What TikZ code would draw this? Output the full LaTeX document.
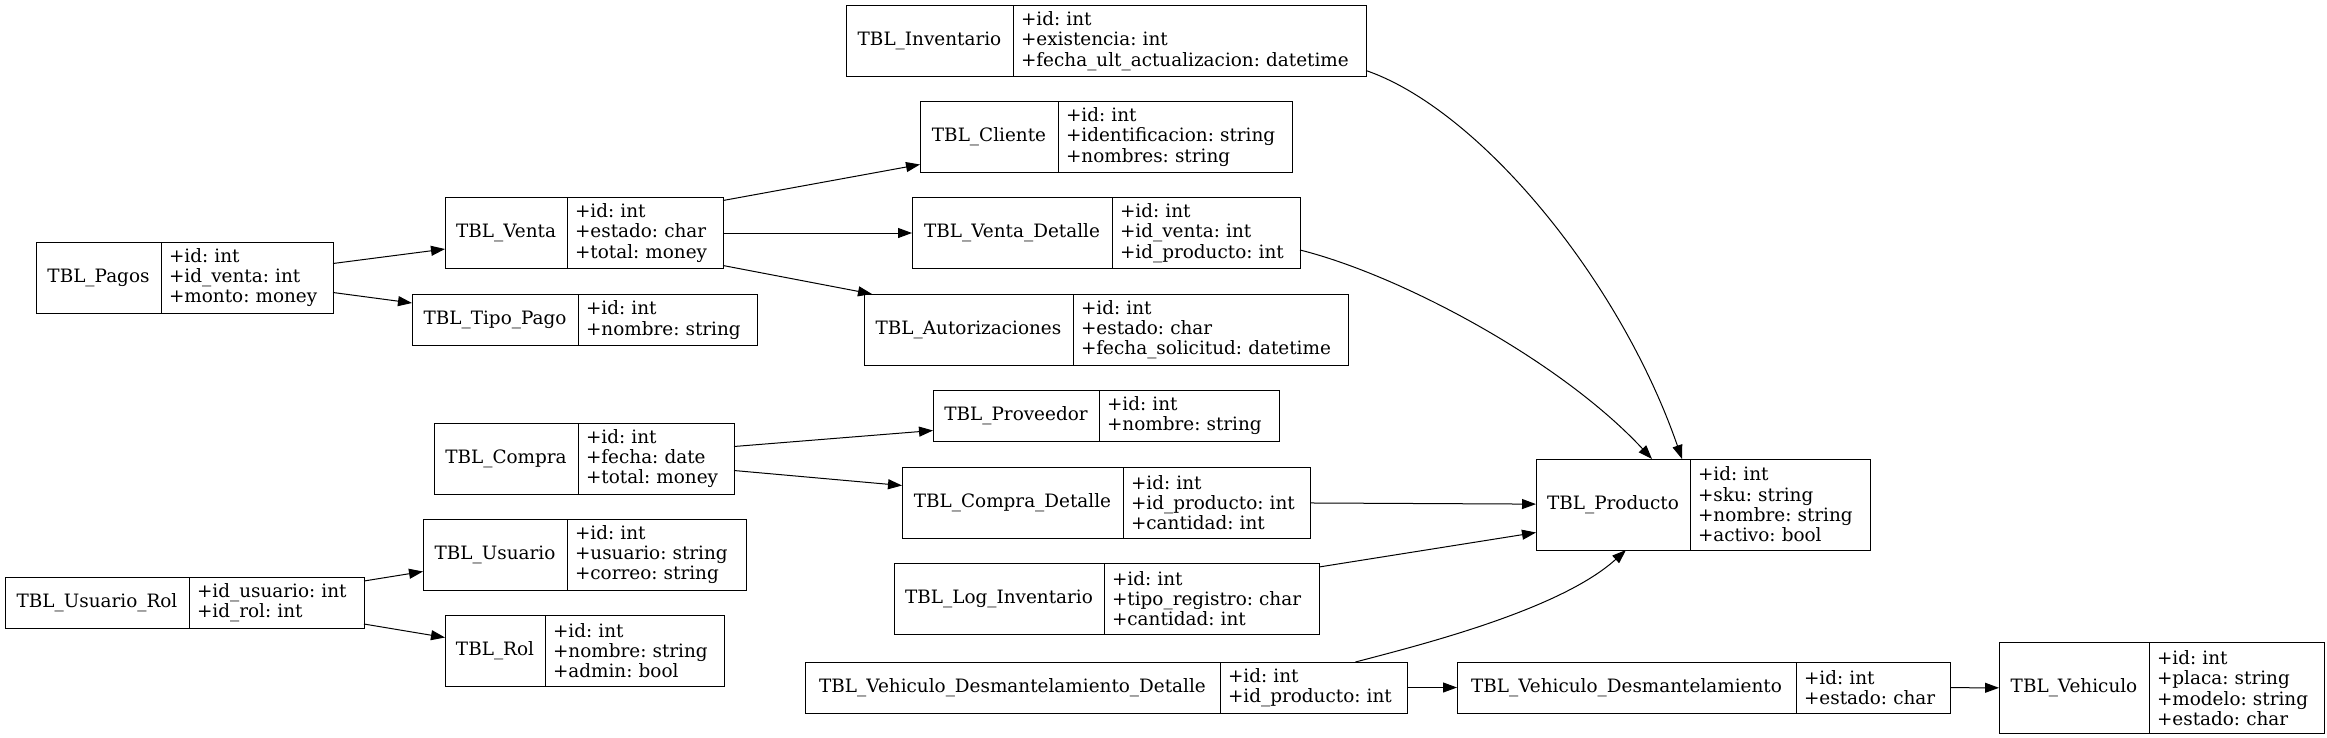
\documentclass[tikz,border=0pt]{standalone}
\usepackage{fontspec}
\setmainfont{DejaVu Serif}
\usetikzlibrary{arrows.meta, positioning}
\frenchspacing

\begin{document}
\begin{tikzpicture}[
    x=1pt, y=-1pt,
    every node/.style={font=\fontsize{18.4}{20.3}\selectfont},
    tabla/.style={rectangle, draw, line width=1pt, outer sep=0pt, inner sep=0pt, align=center},
    campos/.style={rectangle, draw, line width=1pt, outer sep=0pt, inner xsep=8pt, inner ysep=0pt, align=left},
    dos/.style={minimum height=51pt},
    tres/.style={minimum height=71pt},
    cuatro/.style={minimum height=91pt},
    arrow/.style={-{Triangle[length=14pt, width=10pt]}, line width=1pt}
]
\useasboundingbox (0,0) rectangle (2327,737);

% ---- bloque de ventas ----
\node[tabla, tres, minimum width=125pt] (pagos) at (98.5,277.5) {TBL\_Pagos};
\node[campos, tres, text width=156pt, right=0pt of pagos] (pagos-c) {+id: int\\+id\_venta: int\\+monto: money};
\node[tabla, tres, minimum width=122pt] (venta) at (506,233) {TBL\_Venta};
\node[campos, tres, text width=140pt, right=0pt of venta] (venta-c) {+id: int\\+estado: char\\+total: money};
\node[tabla, dos, minimum width=166pt] (tipopago) at (495,320) {TBL\_Tipo\_Pago};
\node[campos, dos, text width=163pt, right=0pt of tipopago] (tipopago-c) {+id: int\\+nombre: string};
\node[tabla, tres, minimum width=167pt] (inventario) at (929.5,41) {TBL\_Inventario};
\node[campos, tres, text width=337pt, right=0pt of inventario] (inventario-c) {+id: int\\+existencia: int\\+fecha\_ult\_actualizacion: datetime};
\node[tabla, tres, minimum width=138pt] (cliente) at (989,137) {TBL\_Cliente};
\node[campos, tres, text width=218pt, right=0pt of cliente] (cliente-c) {+id: int\\+identificacion: string\\+nombres: string};
\node[tabla, tres, minimum width=200pt] (vdetalle) at (1012,233) {TBL\_Venta\_Detalle};
\node[campos, tres, text width=172pt, right=0pt of vdetalle] (vdetalle-c) {+id: int\\+id\_venta: int\\+id\_producto: int};
\node[tabla, tres, minimum width=209pt] (autorizaciones) at (968.5,329.5) {TBL\_Autorizaciones};
\node[campos, tres, text width=259pt, right=0pt of autorizaciones] (autorizaciones-c) {+id: int\\+estado: char\\+fecha\_solicitud: datetime};

% ---- bloque de compras ----
\node[tabla, tres, minimum width=144pt] (compra) at (506,458.5) {TBL\_Compra};
\node[campos, tres, text width=140pt, right=0pt of compra] (compra-c) {+id: int\\+fecha: date\\+total: money};
\node[tabla, dos, minimum width=166pt] (proveedor) at (1016,415.5) {TBL\_Proveedor};
\node[campos, dos, text width=164pt, right=0pt of proveedor] (proveedor-c) {+id: int\\+nombre: string};
\node[tabla, tres, minimum width=221pt] (cdetalle) at (1012.5,502.5) {TBL\_Compra\_Detalle};
\node[campos, tres, text width=171pt, right=0pt of cdetalle] (cdetalle-c) {+id: int\\+id\_producto: int\\+cantidad: int};
\node[tabla, tres, minimum width=210pt] (log) at (999,598.5) {TBL\_Log\_Inventario};
\node[campos, tres, text width=199pt, right=0pt of log] (log-c) {+id: int\\+tipo\_registro: char\\+cantidad: int};
\node[tabla, cuatro, minimum width=154pt] (producto) at (1613,504.5) {TBL\_Producto};
\node[campos, cuatro, text width=164pt, right=0pt of producto] (producto-c) {+id: int\\+sku: string\\+nombre: string\\+activo: bool};

% ---- usuarios ----
\node[tabla, dos, minimum width=184pt] (urol) at (97,602.5) {TBL\_Usuario\_Rol};
\node[campos, dos, text width=159pt, right=0pt of urol] (urol-c) {+id\_usuario: int\\+id\_rol: int};
\node[tabla, tres, minimum width=144pt] (usuario) at (495,554.5) {TBL\_Usuario};
\node[campos, tres, text width=163pt, right=0pt of usuario] (usuario-c) {+id: int\\+usuario: string\\+correo: string};
\node[tabla, tres, minimum width=100pt] (rol) at (495,650.5) {TBL\_Rol};
\node[campos, tres, text width=163pt, right=0pt of rol] (rol-c) {+id: int\\+nombre: string\\+admin: bool};

% ---- vehiculos ----
\node[tabla, dos, minimum width=415pt] (vdd) at (1012.5,687.5) {TBL\_Vehiculo\_Desmantelamiento\_Detalle};
\node[campos, dos, text width=171pt, right=0pt of vdd] (vdd-c) {+id: int\\+id\_producto: int};
\node[tabla, dos, minimum width=339pt] (vd) at (1626.5,687.5) {TBL\_Vehiculo\_Desmantelamiento};
\node[campos, dos, text width=138pt, right=0pt of vd] (vd-c) {+id: int\\+estado: char};
\node[tabla, cuatro, minimum width=150pt] (vehiculo) at (2074,688) {TBL\_Vehiculo};
\node[campos, cuatro, text width=159.5pt, right=0pt of vehiculo] (vehiculo-c) {+id: int\\+placa: string\\+modelo: string\\+estado: char};

% ---- relaciones ----
\draw[arrow] ([yshift=14pt]pagos-c.east) -- ([yshift=-16pt]venta.west);
\draw[arrow] ([yshift=-15pt]pagos-c.east) -- ([yshift=17pt]tipopago.west);
\draw[arrow] ([yshift=-3pt]venta-c.north east) -- ([yshift=8pt]cliente.south west);
\draw[arrow] (venta-c) -- (vdetalle);
\draw[arrow] ([yshift=3pt]venta-c.south east) -- ([xshift=8pt]autorizaciones.north west);
\draw[arrow] ([yshift=12pt]compra-c.east) -- ([yshift=-15pt]proveedor.west);
\draw[arrow] ([yshift=-12pt]compra-c.east) -- ([yshift=17pt]cdetalle.west);
\draw[arrow] ([yshift=-4pt]urol-c.north east) -- ([yshift=-17pt]usuario.west);
\draw[arrow] ([yshift=4pt]urol-c.south east) -- ([yshift=13pt]rol.west);

% ---- todo llega a TBL_Producto ----
\draw[arrow] ([yshift=6pt]inventario-c.south east) .. controls (1480,110) and (1620,280) .. ([xshift=-8pt]producto.north east);
\draw[arrow] ([yshift=-17pt]vdetalle-c.east) .. controls (1400,275) and (1560,360) .. ([xshift=-38pt]producto.north east);
\draw[arrow] (cdetalle-c) -- (producto);
\draw[arrow] ([yshift=-4pt]log-c.north east) -- ([yshift=-28pt]producto.west);
\draw[arrow] ([xshift=42pt]vdd-c.north) .. controls (1420,645) and (1560,610) .. ([xshift=13pt]producto.south);
\draw[arrow] (vdd-c) -- (vd);
\draw[arrow] (vd-c) -- (vehiculo);

\end{tikzpicture}
\end{document}
